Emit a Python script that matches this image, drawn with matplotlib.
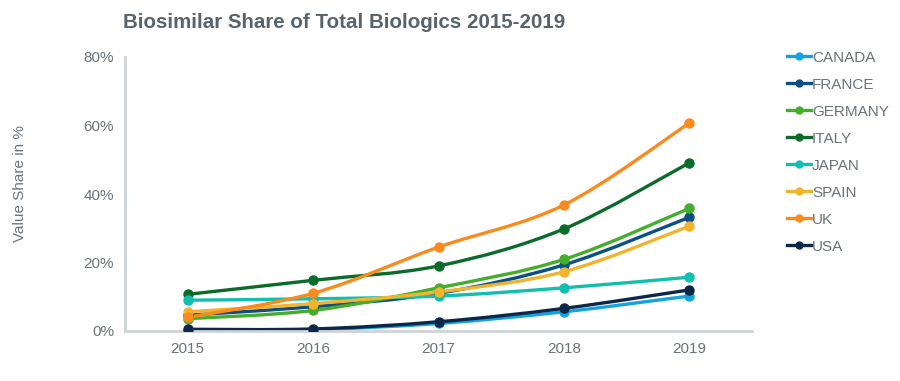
import numpy as np
import matplotlib
matplotlib.use("Agg")
import matplotlib.pyplot as plt
from matplotlib.path import Path
from matplotlib.patches import PathPatch
from matplotlib.lines import Line2D

plt.rcParams["font.family"] = ["Liberation Sans", "DejaVu Sans"]

years = ["2015", "2016", "2017", "2018", "2019"]

canada = [0.3, 0.4, 2.2, 5.6, 10.2]
france = [4.6, 7.1, 11.0, 19.3, 33.2]
germany = [3.6, 6.0, 12.6, 20.9, 35.8]
italy = [10.7, 14.8, 19.0, 29.8, 49.1]
japan = [9.0, 9.4, 10.2, 12.6, 15.7]
spain = [5.6, 8.0, 11.4, 17.3, 30.6]
uk = [4.0, 11.0, 24.5, 36.8, 60.7]
usa = [0.5, 0.6, 2.7, 6.6, 12.0]

series = [
    ("CANADA", canada, "#14a3e0"),
    ("FRANCE", france, "#0b4f86"),
    ("GERMANY", germany, "#45ad2c"),
    ("ITALY", italy, "#0a6b2a"),
    ("JAPAN", japan, "#12bfae"),
    ("SPAIN", spain, "#f2b42c"),
    ("UK", uk, "#fb8a1c"),
    ("USA", usa, "#0c2747"),
]

text_col = "#6b7378"


def smooth_path(x, y, t=1 / 6):
    # Excel-like smoothed line: Catmull-Rom segments as cubic Beziers
    x = np.asarray(x, float)
    y = np.asarray(y, float)
    n = len(x)
    verts = [(x[0], y[0])]
    codes = [Path.MOVETO]
    for i in range(n - 1):
        p0 = np.array([x[max(i - 1, 0)], y[max(i - 1, 0)]])
        p1 = np.array([x[i], y[i]])
        p2 = np.array([x[i + 1], y[i + 1]])
        p3 = np.array([x[min(i + 2, n - 1)], y[min(i + 2, n - 1)]])
        c1 = p1 + (p2 - p0) * t
        c2 = p2 - (p3 - p1) * t
        verts += [tuple(c1), tuple(c2), tuple(p2)]
        codes += [Path.CURVE4] * 3
    return Path(verts, codes)


fig = plt.figure(figsize=(9, 3.81), dpi=100)
ax = fig.add_axes([125 / 900, 1 - 331 / 381, 627 / 900, 274 / 381])

xs = np.arange(len(years))
handles = []
for name, vals, col in series:
    patch = PathPatch(smooth_path(xs, vals), facecolor="none", edgecolor=col,
                      lw=2.4, capstyle="round", joinstyle="round", zorder=2)
    ax.add_patch(patch)
    ax.plot(xs, vals, linestyle="none", marker="o", ms=6.5, color=col, zorder=3)
    handles.append(Line2D([0], [0], color=col, lw=2.4, marker="o", ms=5))

ax.set_xlim(-0.5, 4.5)
ax.set_ylim(0, 80)
ax.set_xticks(xs)
ax.set_xticklabels(years)
ax.set_yticks([0, 20, 40, 60, 80])
ax.set_yticklabels(["0%", "20%", "40%", "60%", "80%"])
ax.tick_params(axis="both", length=0, labelsize=11, colors=text_col)
ax.tick_params(axis="x", pad=8)
ax.tick_params(axis="y", pad=8)

for s in ["top", "right"]:
    ax.spines[s].set_visible(False)
for s in ["left", "bottom"]:
    ax.spines[s].set_color("#cfd3d6")
    ax.spines[s].set_linewidth(2)

fig.text(20 / 900, 1 - 184 / 381, "Value Share in %", rotation=90, ha="center",
         va="center", fontsize=11, color=text_col)
fig.text(123 / 900, 1 - 22 / 381, "Biosimilar Share of Total Biologics 2015-2019",
         ha="left", va="center", fontsize=14.8, fontweight="bold", color="#59636b")

fig.legend(handles, [s[0] for s in series], loc="upper left",
           bbox_to_anchor=(773 / 900, 1 - 37 / 381), frameon=False,
           fontsize=11, labelcolor=text_col, handlelength=1.6, handletextpad=0.05,
           labelspacing=0.85)

fig.savefig("out.png", dpi=100, facecolor="white")
